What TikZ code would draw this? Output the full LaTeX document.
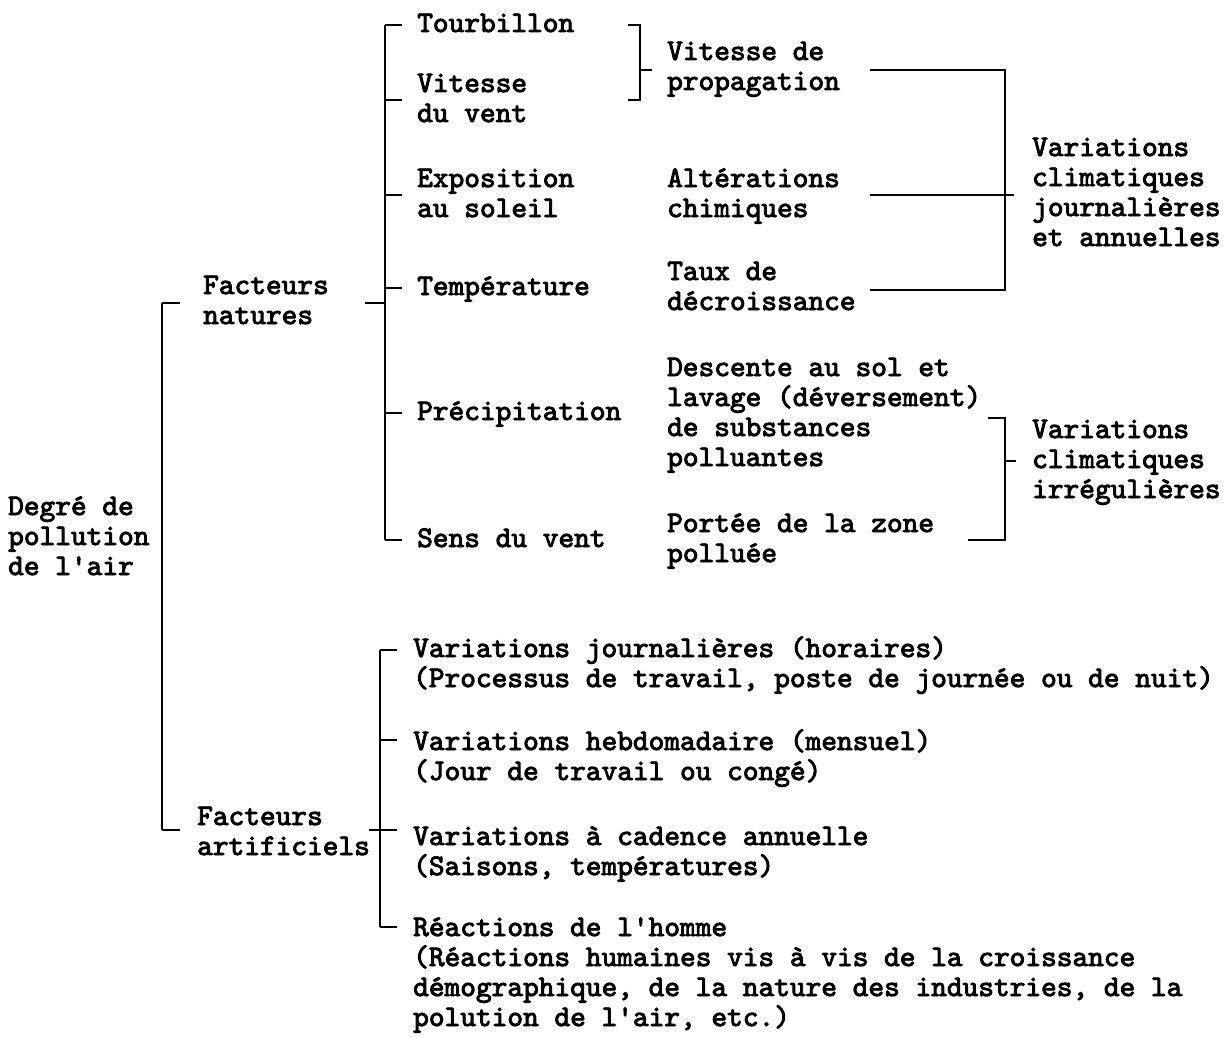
\documentclass[tikz,border=0pt]{standalone}
\usepackage{fontspec}
\newfontfamily\typew{lmmono10-regular.otf}[FakeBold=3]
\newcommand{\apo}{\textquotesingle}
\begin{document}
\begin{tikzpicture}[x=1pt,y=-1pt,line cap=butt,
  txt/.style={anchor=base west,align=left,inner sep=0pt,font=\typew\fontsize{29.9}{30}\selectfont},
  spine/.style={line width=2.6pt},
  tick/.style={line width=1.6pt}]
\useasboundingbox (0,0) rectangle (1232,1038);
% texts (base of last line)
\node[txt] (degre) at (8,575) {Degré de\\pollution\\de l\apo air};
\node[txt] (natures) at (203,324) {Facteurs\\natures};
\node[txt] (artif) at (197,855) {Facteurs\\artificiels};
\node[txt] (tourb) at (417,32) {Tourbillon};
\node[txt] (vitvent) at (417,122) {Vitesse\\du vent};
\node[txt] (expo) at (417,217) {Exposition\\au soleil};
\node[txt] (temp) at (417,295) {Température};
\node[txt] (precip) at (417,420) {Précipitation};
\node[txt] (sens) at (417,547) {Sens du vent};
\node[txt] (vitprop) at (667,90) {Vitesse de\\propagation};
\node[txt] (alter) at (667,217) {Altérations\\chimiques};
\node[txt] (taux) at (667,310) {Taux de\\décroissance};
\node[txt] (desc) at (667,466) {Descente au sol et\\lavage (déversement)\\de substances\\polluantes};
\node[txt] (portee) at (667,562) {Portée de la zone\\polluée};
\node[txt] (varjour) at (1032,246) {Variations\\climatiques\\journalières\\et annuelles};
\node[txt] (varirr) at (1032,498) {Variations\\climatiques\\irrégulières};
\node[txt] (art1) at (413,687) {Variations journalières (horaires)\\(Processus de travail, poste de journée ou de nuit)};
\node[txt] (art2) at (413,780) {Variations hebdomadaire (mensuel)\\(Jour de travail ou congé)};
\node[txt] (art3) at (413,875) {Variations à cadence annuelle\\(Saisons, températures)};
\node[txt] (art4) at (413,1026) {Réactions de l\apo homme\\(Réactions humaines vis à vis de la croissance\\démographique, de la nature des industries, de la\\polution de l\apo air, etc.)};
% main bracket
\coordinate (mtop) at (162,303);
\coordinate (mbot) at (162,830);
\draw[spine] (mtop) -- (mbot);
\draw[tick] (mtop) -- ++(18,0) (mbot) -- ++(18,0);
% natural factors
\coordinate (ntop) at (385,25);
\coordinate (nbot) at (385,540);
\draw[spine] (ntop) -- (nbot);
\foreach \y in {25,100,195,288,413,540} \draw[tick] (385,\y) -- ++(17,0);
\draw[tick] (365,303) -- (385,303);
% artificial factors
\coordinate (atop) at (380,650);
\coordinate (abot) at (380,927);
\draw[spine] (atop) -- (abot);
\foreach \y in {650,740,830,927} \draw[tick] (380,\y) -- ++(17,0);
\draw[tick] (369,830) -- (380,830);
% propagation bracket
\draw[spine] (628,25) -- (640,25) -- (640,100) -- (628,100);
\draw[tick] (640,70) -- (652,70);
% regular variations
\draw[spine] (870,70) -- (1005,70) -- (1005,290) -- (870,290);
\draw[tick] (870,195) -- (1014,195);
% irregular variations
\draw[spine] (988,418) -- (1005,418) -- (1005,540) -- (968,540);
\draw[tick] (1005,461) -- (1016,461);
\end{tikzpicture}
\end{document}
